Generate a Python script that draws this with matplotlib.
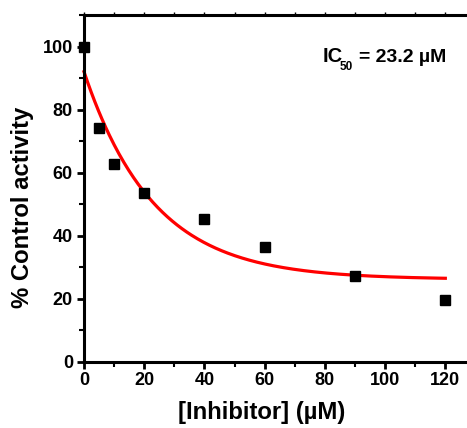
import numpy as np
import matplotlib
matplotlib.use("Agg")
import matplotlib.pyplot as plt
from matplotlib import font_manager
from matplotlib.ticker import MultipleLocator

plt.rcParams['font.family'] = ['Liberation Sans', 'DejaVu Sans']
plt.rcParams['font.weight'] = 'bold'

# Measured activity at each inhibitor concentration
conc = [0, 5, 10, 20, 40, 60, 90, 120]
activity = [100, 74.1, 62.8, 53.6, 45.3, 36.4, 27.3, 19.6]

# One-phase exponential decay fit parameters
fit_y0 = 92.1
fit_plateau = 26.2
fit_k = 0.0433
ic50_label = "23.2"

installed = {f.name for f in font_manager.fontManager.ttflist}
if 'Liberation Sans Narrow' in installed:
    tick_family, tick_size = ['Liberation Sans Narrow', 'Liberation Sans'], 15
else:
    tick_family, tick_size = ['Liberation Sans'], 13

W, H = 467, 428
fig = plt.figure(figsize=(W / 100, H / 100), dpi=100)
ax = fig.add_axes([84 / W, 1 - 362 / H, 1 - 84 / W, (362 - 15.3) / H])

xf = np.linspace(0, 120, 300)
yf = fit_plateau + (fit_y0 - fit_plateau) * np.exp(-fit_k * xf)
ax.plot(xf, yf, color='#ff0000', lw=2.3, zorder=2, clip_on=False)
ax.plot(conc, activity, ls='none', marker='s', ms=6.6, color='black', zorder=3, clip_on=False)

ax.set_xlim(0, 127.2)
ax.set_ylim(0, 110)
ax.xaxis.set_major_locator(MultipleLocator(20))
ax.xaxis.set_minor_locator(MultipleLocator(10))
ax.yaxis.set_major_locator(MultipleLocator(20))
ax.yaxis.set_minor_locator(MultipleLocator(10))

for s in ['left', 'bottom', 'top']:
    ax.spines[s].set_linewidth(2.2)
ax.spines['right'].set_visible(False)

ax.tick_params(which='major', direction='out', length=5, width=2)
ax.tick_params(which='minor', direction='out', length=3.5, width=1.5)
ax.tick_params(axis='x', which='major', pad=2)
ax.tick_params(axis='y', which='major', pad=3)
ax.tick_params(axis='x', which='both', top=True, labeltop=False)
for t in ax.xaxis.get_major_ticks() + ax.xaxis.get_minor_ticks():
    t.tick2line.set_markersize(2)
    t.tick2line.set_markeredgewidth(1)
for lab in ax.get_xticklabels() + ax.get_yticklabels():
    lab.set_fontweight('bold')
    lab.set_family(tick_family)
    lab.set_fontsize(tick_size)

# Axis titles
fig.text(261.5 / W, 1 - 412 / H, '[Inhibitor] (\u00b5M)', ha='center', va='center',
         fontsize=17.2, fontweight='bold')
fig.text(23 / W, 1 - 207.5 / H, '% Control activity', ha='center', va='center',
         rotation=90, fontsize=17.2, fontweight='bold')

# IC50 annotation built from pieces: "IC", subscript "50", then the value
base_y = 1 - 61.7 / H
fig.text(323 / W, base_y, 'IC', ha='left', va='baseline', fontsize=14.5, fontweight='bold')
fig.text(340 / W, 1 - 70 / H, '50', ha='left', va='baseline',
         fontsize=8.5, fontweight='bold')
fig.text(359 / W, base_y, '= ' + ic50_label + ' \u00b5M', ha='left', va='baseline',
         fontsize=14, fontweight='bold')

fig.savefig('out.png', dpi=100)
